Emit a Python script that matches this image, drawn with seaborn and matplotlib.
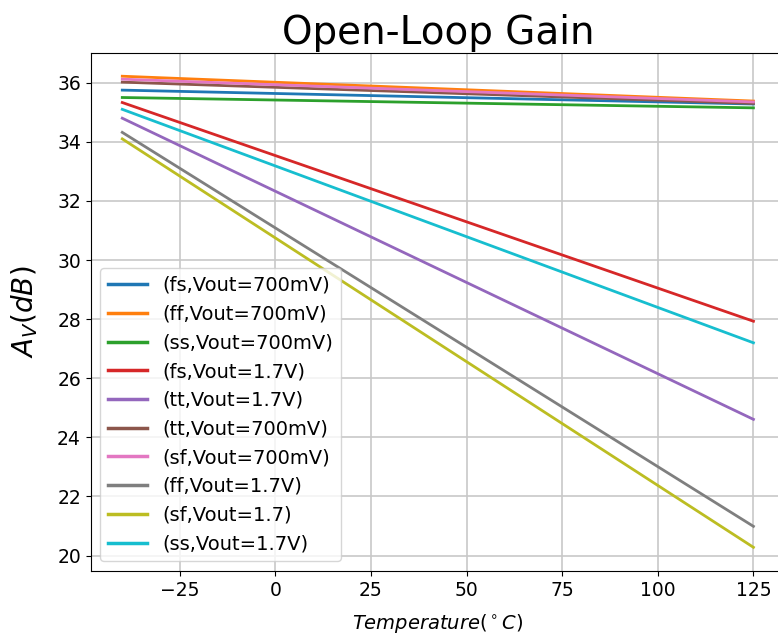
import matplotlib
matplotlib.use("Agg")
import matplotlib.pyplot as plt
import seaborn as sns
import pandas as pd

temps = [-40, 125]
labels = ["(fs,Vout=700mV)", "(ff,Vout=700mV)", "(ss,Vout=700mV)", "(fs,Vout=1.7V)",
          "(tt,Vout=1.7V)", "(tt,Vout=700mV)", "(sf,Vout=700mV)", "(ff,Vout=1.7V)",
          "(sf,Vout=1.7)", "(ss,Vout=1.7V)"]
gain_start = [35.75, 36.22, 35.50, 35.33, 34.80, 36.02, 36.12, 34.32, 34.10, 35.10]
gain_end = [35.28, 35.38, 35.15, 27.93, 24.61, 35.30, 35.35, 20.99, 20.28, 27.20]

rows = []
for lab, g0, g1 in zip(labels, gain_start, gain_end):
    rows.append({"T": temps[0], "Av": g0, "case": lab})
    rows.append({"T": temps[1], "Av": g1, "case": lab})
df = pd.DataFrame(rows)

fig, ax = plt.subplots(figsize=(7.78, 6.4), dpi=100)
sns.lineplot(data=df, x="T", y="Av", hue="case", hue_order=labels,
             palette="tab10", ax=ax, linewidth=2)
ax.grid(True, color="#c8c8c8", linewidth=1.2)
ax.set_title("Open-Loop Gain", fontsize=28)
ax.set_ylabel("$A_V(dB)$", fontsize=20, labelpad=12)
ax.set_xlabel(r"$Temperature(^\circ C)$", fontsize=14, labelpad=9)
ax.tick_params(labelsize=13.5)
ax.set_yticks([20, 22, 24, 26, 28, 30, 32, 34, 36])
ax.spines["right"].set_visible(False)
leg = ax.legend(loc="lower left", fontsize=14, handlelength=2)
for h in leg.get_lines():
    h.set_linewidth(2.5)
fig.subplots_adjust(left=0.1166, right=1.009, top=0.9177, bottom=0.108)
fig.savefig("out.png", dpi=100)
